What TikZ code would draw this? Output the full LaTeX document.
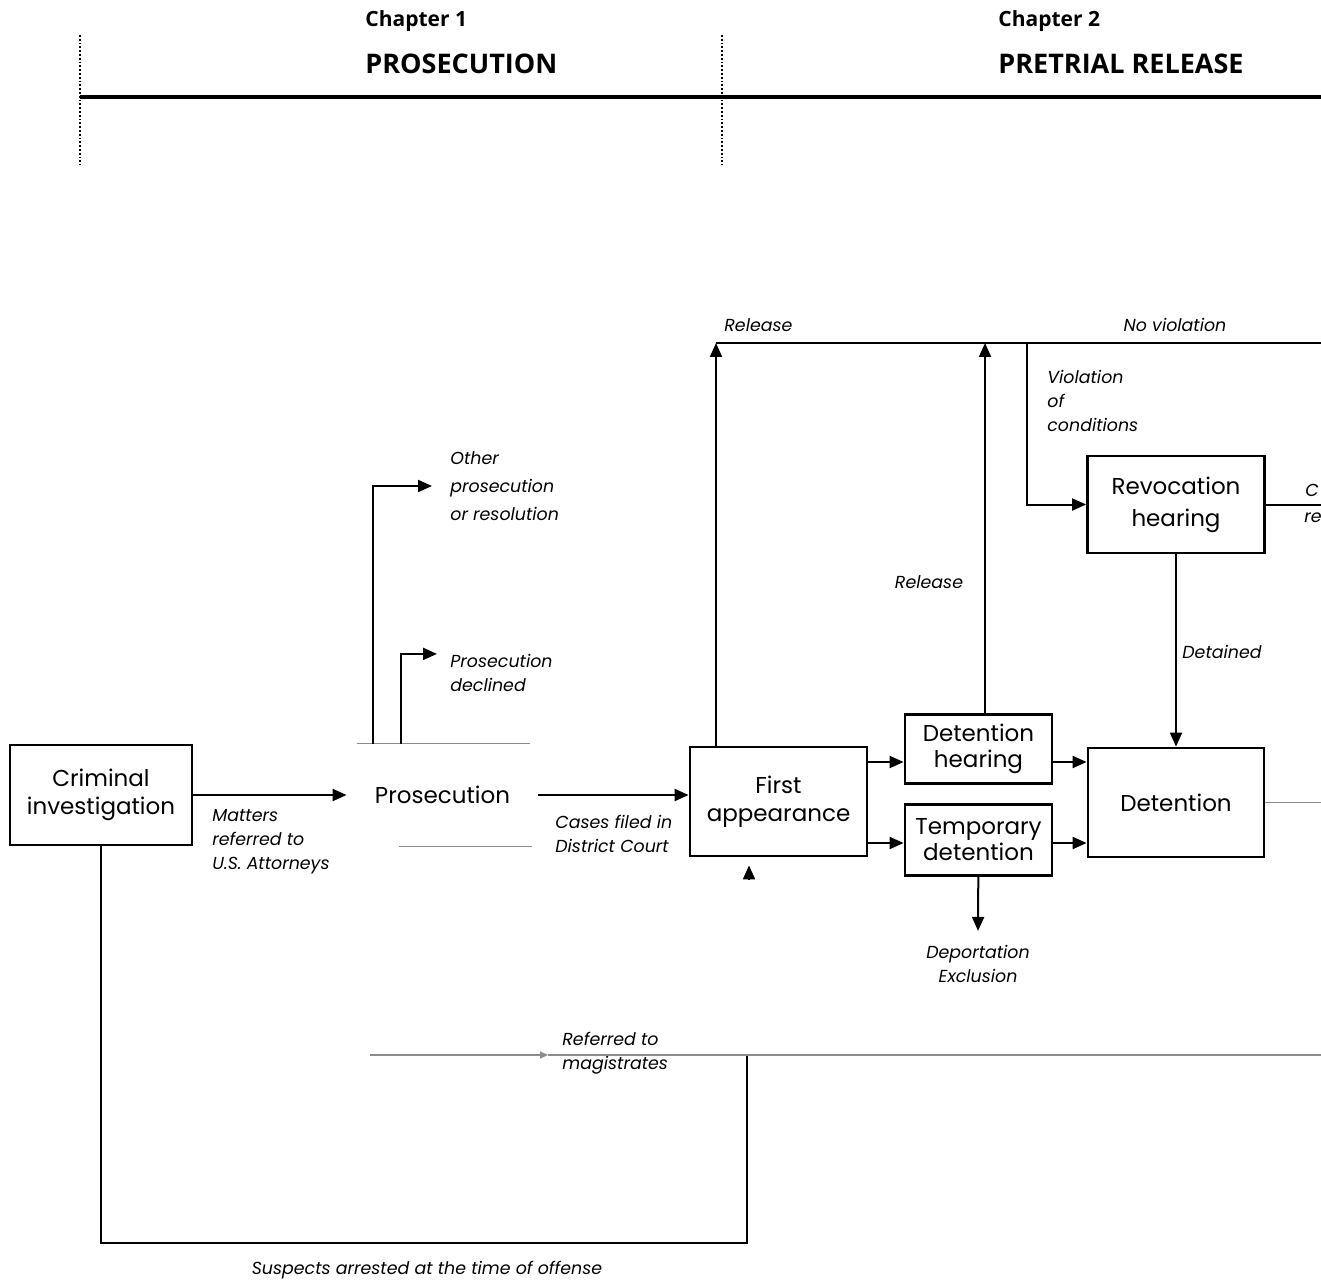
\documentclass[tikz,border=0pt]{standalone}
\usepackage{fontspec}
\setmainfont{Poppins}
\newfontfamily\headfont{Open Sans}
\usetikzlibrary{arrows.meta, positioning}

\tikzset{
  box/.style={draw, line width=1.4pt, align=center, inner sep=0pt,
    font=\fontsize{11.5}{14}\selectfont},
  lbl/.style={font=\itshape\fontsize{8.7}{12}\selectfont, align=left, inner sep=0pt},
  head/.style={font=\headfont\bfseries\fontsize{10.5}{13}\selectfont, anchor=west, inner sep=0pt},
  title/.style={font=\headfont\bfseries\fontsize{13.5}{16}\selectfont, anchor=west, inner sep=0pt},
  flow/.style={line width=1pt, -{Triangle[length=7pt,width=6pt]}},
  plain/.style={line width=1pt},
  faint/.style={line width=0.6pt, black!45},
}

\begin{document}
\begin{tikzpicture}[x=0.5pt, y=-0.5pt]
    \useasboundingbox (0,0) rectangle (1321,1283);

    % Chapter headings
    \foreach \x/\n/\t in {365/1/PROSECUTION, 998/2/PRETRIAL RELEASE} {
        \node[head] (chap\n) at (\x,21) {Chapter \n};
        \node[title] (chaptitle\n) at (\x,64) {\t};
    }
    \foreach \x in {80,722} {
        \draw[densely dotted, line width=0.9pt] (\x,35) -- (\x,165);
    }
    \draw[line width=1.6pt] (80,97) -- (1321,97);

    % Boxes
    \node[box, minimum width=91pt, minimum height=50pt] (crim) at (101,795) {Criminal\\investigation};
    \node[box, draw=none, minimum width=94.5pt, minimum height=50pt] (pros) at (442.5,795) {Prosecution};
    \node[box, minimum width=88.5pt, minimum height=54.5pt] (fa) at (778.5,801.5) {First\\appearance};
    \node[box, minimum width=73.5pt, minimum height=34.5pt, font=\fontsize{11.5}{13}\selectfont] (dh) at (978.5,749) {Detention\\hearing};
    \node[box, minimum width=73.5pt, minimum height=35.5pt, font=\fontsize{11.5}{13}\selectfont] (td) at (978.5,840) {Temporary\\detention};
    \node[box, minimum width=88.5pt, minimum height=48.5pt, font=\fontsize{11.5}{16}\selectfont] (rev) at (1176,504.5) {Revocation\\hearing};
    \node[box, minimum width=88pt, minimum height=54.5pt] (det) at (1176,802.5) {Detention};

    % Labels
    \node[lbl, anchor=west] (matters) at (212,842) {Matters\\referred to\\U.S. Attorneys};
    \node[lbl, anchor=west, font=\itshape\fontsize{8.7}{14}\selectfont] (other) at (450,486) {Other\\prosecution\\or resolution};
    \node[lbl, anchor=west] (declined) at (450,673) {Prosecution\\declined};
    \node[lbl, anchor=west] (filed) at (555,834) {Cases filed in\\District Court};
    \node[lbl, anchor=west] (rel1) at (724,325) {Release};
    \node[lbl] (rel2) at (929,582) {Release};
    \node[lbl] (noviol) at (1175,325) {No violation};
    \node[lbl, anchor=west] (viol) at (1047,401) {Violation\\of\\conditions};
    \node[lbl] (detained) at (1222,652) {Detained};
    \node[lbl, align=center] (deport) at (978,964) {Deportation\\Exclusion};
    \node[lbl, anchor=west] (magis) at (562,1053) {Referred to\\magistrates};
    \node[lbl] (suspects) at (427,1270) {Suspects arrested at the time of offense};
    \node[lbl, anchor=west] (cutc) at (1305,490) {C};
    \node[lbl, anchor=west] (cutre) at (1304,518) {re};

    % Helper coordinates
    \coordinate (top1) at (716,343);
    \coordinate (top2) at (985,343);
    \coordinate (vjoin) at (1027,343);
    \coordinate (redge) at (1330,343);
    \coordinate (hy) at (0,762);
    \coordinate (ty) at (0,843);
    \coordinate (bot) at (0,1243);
    \coordinate (magj) at (747,1055);
    \coordinate (magA) at (370,1055);
    \coordinate (magB) at (548,1055);
    \coordinate (fain) at (749,879);

    % Prosecution (faded outline)
    \draw[faint] ([xshift=5pt]pros.north west) -- ([xshift=-4pt]pros.north east);
    \draw[faint] ([xshift=26pt]pros.south west) -- ([xshift=-3pt]pros.south east);

    % Connectors
    \draw[flow] (crim) -- (pros);
    \draw[flow] ([xshift=13pt]pros.north west) |- ([xshift=-9pt]other.west);
    \draw[flow] ([xshift=27pt]pros.north west) |- ([xshift=-6.5pt]declined.north west);
    \draw[flow] (pros.east) -- (pros.east -| fa.west);
    \draw[flow] (fa.north -| top1) -- (top1);
    \draw[flow] (dh.north -| top2) -- (top2);
    \draw[plain] (top1) -- (redge);
    \draw[flow] (vjoin) |- (rev);
    \draw[plain] (rev.east) -- (rev.east -| redge);
    \draw[flow] (rev) -- (det);
    \draw[faint] (det.east) -- (det.east -| redge);
    \draw[flow] (fa.east |- hy) -- (dh.west |- hy);
    \draw[flow] (fa.east |- ty) -- (td.west |- ty);
    \draw[flow] (dh.east |- hy) -- (det.west |- hy);
    \draw[flow] (td.east |- ty) -- (det.west |- ty);
    \draw[flow] (td) -- ([yshift=7pt]deport.north);

    % Arrested at the time of offense
    \draw[plain] (crim) -- (crim.south |- bot) -| (magj);
    \draw[flow, shorten >=4pt] (fain) -- (fa.south -| fain);

    % Referred to magistrates (faded)
    \draw[faint, -{Triangle[length=4pt,width=3.5pt]}] (magA) -- (magB);
    \draw[faint] (magB) -- (magB -| redge);
\end{tikzpicture}
\end{document}
